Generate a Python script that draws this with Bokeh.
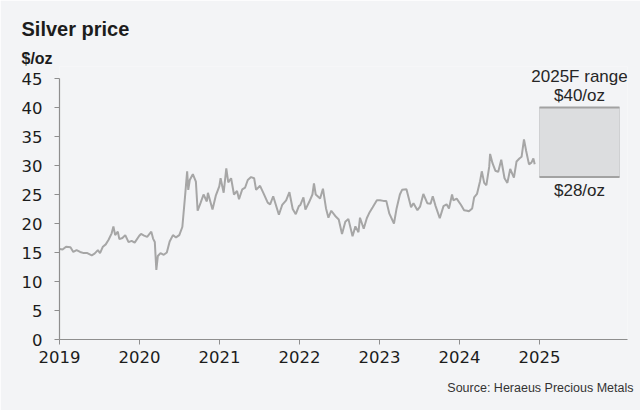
import pandas as pd
from bokeh.plotting import figure
from bokeh.models import Label, FixedTicker, Range1d, Title
from bokeh.embed import file_html
from bokeh.resources import INLINE

# ---- data ----
dates = [
    "2019-01-02", "2019-01-15", "2019-01-31", "2019-02-20", "2019-03-05", "2019-03-20",
    "2019-04-05", "2019-04-22", "2019-05-08", "2019-05-28", "2019-06-10", "2019-06-25",
    "2019-07-05", "2019-07-18", "2019-07-31", "2019-08-13", "2019-08-27", "2019-09-04",
    "2019-09-12", "2019-09-24", "2019-10-01", "2019-10-15", "2019-10-28", "2019-11-12",
    "2019-11-26", "2019-12-10", "2019-12-31",
    "2020-01-08", "2020-01-22", "2020-02-05", "2020-02-24", "2020-03-03", "2020-03-11",
    "2020-03-18", "2020-03-25", "2020-04-06", "2020-04-21", "2020-05-05", "2020-05-18",
    "2020-06-02", "2020-06-16", "2020-07-01", "2020-07-15", "2020-07-27", "2020-08-06",
    "2020-08-11", "2020-08-18", "2020-09-01", "2020-09-15", "2020-09-23", "2020-10-06",
    "2020-10-20", "2020-11-04", "2020-11-09", "2020-11-30", "2020-12-15", "2020-12-31",
    "2021-01-06", "2021-01-20", "2021-02-01", "2021-02-10", "2021-02-23", "2021-03-08",
    "2021-03-22", "2021-03-31", "2021-04-15", "2021-04-28", "2021-05-10", "2021-05-25",
    "2021-06-08", "2021-06-17", "2021-07-05", "2021-07-21", "2021-08-09", "2021-08-20",
    "2021-09-03", "2021-09-29", "2021-10-14", "2021-11-01", "2021-11-16", "2021-12-01",
    "2021-12-15", "2021-12-29",
    "2022-01-05", "2022-01-19", "2022-01-28", "2022-02-14", "2022-03-01", "2022-03-08",
    "2022-03-16", "2022-04-05", "2022-04-18", "2022-05-02", "2022-05-13", "2022-05-26",
    "2022-06-13", "2022-06-29", "2022-07-14", "2022-07-29", "2022-08-12", "2022-08-31",
    "2022-09-13", "2022-09-27", "2022-10-04", "2022-10-21", "2022-11-04", "2022-11-15",
    "2022-12-01", "2022-12-20",
    "2023-01-03", "2023-01-19", "2023-02-01", "2023-02-15", "2023-03-08", "2023-03-20",
    "2023-04-04", "2023-04-14", "2023-05-04", "2023-05-25", "2023-06-05", "2023-06-23",
    "2023-07-05", "2023-07-20", "2023-08-07", "2023-08-22", "2023-09-01", "2023-09-14",
    "2023-10-03", "2023-10-20", "2023-11-03", "2023-11-14", "2023-11-28", "2023-12-04",
    "2023-12-19",
    "2024-01-08", "2024-01-22", "2024-02-05", "2024-02-13", "2024-02-28", "2024-03-08",
    "2024-03-21", "2024-04-04", "2024-04-12", "2024-04-23", "2024-05-03", "2024-05-16",
    "2024-05-20", "2024-05-31", "2024-06-13", "2024-06-26", "2024-07-10", "2024-07-25",
    "2024-08-07", "2024-08-20", "2024-09-06", "2024-09-18", "2024-10-01", "2024-10-11",
    "2024-10-22", "2024-11-01", "2024-11-14", "2024-11-25", "2024-12-04", "2024-12-10",
]
prices = [
    15.6, 15.5, 16.0, 15.9, 15.1, 15.4,
    15.1, 14.9, 14.9, 14.5, 14.8, 15.4,
    14.9, 16.0, 16.4, 17.2, 18.3, 19.5,
    18.0, 18.6, 17.3, 17.5, 18.0, 16.8,
    17.0, 16.7, 17.9,
    18.2, 17.9, 17.7, 18.6, 17.4, 16.8,
    12.0, 14.4, 14.9, 14.6, 15.0, 16.9,
    18.0, 17.6, 18.0, 19.4, 24.5, 29.0,
    25.8, 27.5, 28.5, 27.2, 22.2, 23.5,
    25.0, 23.8, 25.3, 22.4, 24.8, 26.4,
    27.8, 25.3, 29.5, 27.1, 27.8, 25.0,
    25.6, 24.2, 25.9, 26.2, 27.5, 28.0,
    27.8, 25.8, 26.5, 25.2, 23.6, 23.3,
    24.7, 21.5, 23.2, 24.0, 25.4, 22.5,
    21.6, 23.0,
    23.2, 24.5, 22.4, 23.7, 25.0, 26.9,
    25.0, 24.3, 26.0, 22.6, 21.0, 22.2,
    21.3, 20.7, 18.2, 20.3, 20.8, 17.8,
    19.5, 18.5, 21.0, 19.1, 20.9, 21.8,
    22.8, 24.0,
    24.0, 23.9, 23.9, 21.7, 20.0, 22.6,
    25.0, 25.8, 25.9, 22.8, 23.5, 22.3,
    22.9, 25.1, 23.5, 23.4, 24.7, 23.0,
    20.9, 23.0, 23.3, 22.6, 25.0, 24.0,
    24.3,
    23.2, 22.3, 22.2, 22.1, 22.6, 24.5,
    25.1, 27.3, 29.0, 27.0, 26.6, 29.8,
    32.0, 30.4, 29.1, 28.9, 31.0, 27.8,
    27.0, 29.4, 27.9, 30.7, 31.2, 31.5,
    34.5, 32.5, 30.2, 30.5, 31.2, 30.2,
]
year_ticks = [2019, 2020, 2021, 2022, 2023, 2024, 2025]
price_ticks = [0, 5, 10, 15, 20, 25, 30, 35, 40, 45]
forecast_year = 2025
forecast_low = 28
forecast_high = 40
source_text = "Source: Heraeus Precious Metals"

# decimal years from the dates
d = pd.to_datetime(pd.Series(dates))
days_in_year = d.dt.is_leap_year.map({True: 366, False: 365})
xyear = (d.dt.year + (d.dt.dayofyear - 1) / days_in_year).tolist()

PANEL = "#f3f4f6"
TXT = "#1c1c1c"
AXIS = "#8e8e8e"

p = figure(width=640, height=410, title=None, output_backend="svg", toolbar_location=None,
           x_range=Range1d(2019.0, 2026.1), y_range=Range1d(0, 47.07),
           min_border_left=59, min_border_right=13, min_border_top=66, min_border_bottom=71)
p.background_fill_color = PANEL
p.border_fill_color = PANEL
p.outline_line_color = None
p.grid.visible = False

# titles (stacked upward from the frame)
p.add_layout(Title(text="$/oz", align="left", offset=-38, standoff=0,
                   text_font="Liberation Sans", text_font_style="bold",
                   text_font_size="16px", text_color=TXT), "above")
p.add_layout(Title(text="Silver price", align="left", offset=-38, standoff=16,
                   text_font="Liberation Sans", text_font_style="bold",
                   text_font_size="20px", text_color=TXT), "above")

# forecast range box
p.quad(left=[forecast_year], right=[forecast_year + 1], bottom=[forecast_low], top=[forecast_high],
       fill_color="#dcdddf", line_color="#cfd0d2", line_width=1)
p.segment(x0=[forecast_year, forecast_year], x1=[forecast_year + 1, forecast_year + 1],
          y0=[forecast_low, forecast_high], y1=[forecast_low, forecast_high],
          line_color="#a2a2a2", line_width=2)

# price line
p.line(xyear, prices, line_color="#a6a6a6", line_width=2)

# axes
for ax in (p.xaxis[0], p.yaxis[0]):
    ax.axis_line_color = AXIS
    ax.axis_line_width = 1.2
    ax.major_tick_line_color = AXIS
    ax.major_tick_in = 0
    ax.major_tick_out = 5
    ax.minor_tick_line_color = None
    ax.major_label_text_font = "DejaVu Sans"
    ax.major_label_text_font_size = "16.5px"
    ax.major_label_text_color = TXT
p.xaxis.ticker = FixedTicker(ticks=year_ticks)
p.yaxis.ticker = FixedTicker(ticks=price_ticks)
p.yaxis.bounds = (0, 45)
p.xaxis.major_label_standoff = 6
p.yaxis.major_label_standoff = 12

# source note below the axis
p.add_layout(Title(text=source_text, align="right", offset=-6, standoff=26,
                   text_font="Liberation Sans", text_font_style="normal",
                   text_font_size="12.5px", text_color="#333333"), "below")

# forecast labels
cx = forecast_year + 0.5
lab = dict(text_font="Liberation Sans", text_font_size="17px", text_color="#262626",
           text_align="center", text_baseline="middle")
p.add_layout(Label(x=cx, y=forecast_high, y_offset=31, text=f"{forecast_year}F range", **lab))
p.add_layout(Label(x=cx, y=forecast_high, y_offset=12, text=f"${forecast_high}/oz", **lab))
p.add_layout(Label(x=cx, y=forecast_low, y_offset=-13, text=f"${forecast_low}/oz", **lab))

open("out.html", "w").write(file_html(p, INLINE))
